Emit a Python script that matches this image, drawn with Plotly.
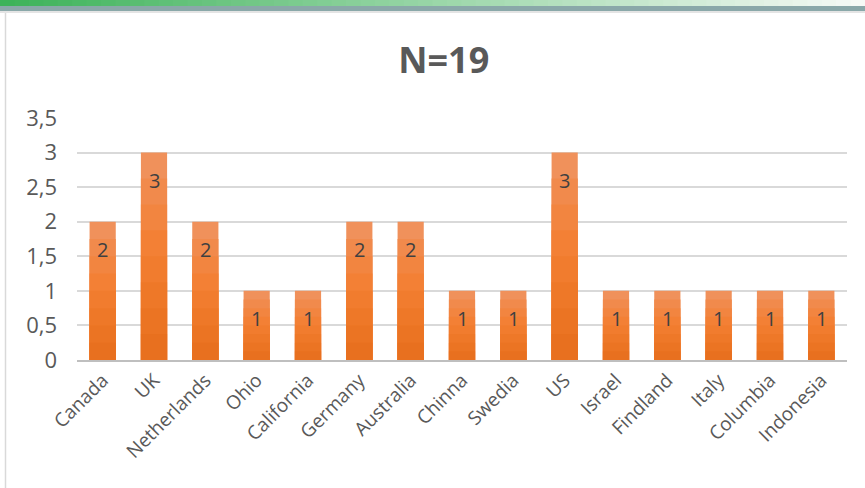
import plotly.graph_objects as go

categories = ["Canada", "UK", "Netherlands", "Ohio", "California", "Germany",
              "Australia", "Chinna", "Swedia", "US", "Israel", "Findland",
              "Italy", "Columbia", "Indonesia"]
counts = [2, 3, 2, 1, 1, 2, 2, 1, 1, 3, 1, 1, 1, 1, 1]
title_text = "N=19"
y_ticks = [0, 0.5, 1, 1.5, 2, 2.5, 3, 3.5]

W, H = 865, 488
ML, MR, MT, MB = 77, 18, 118, 128

fig = go.Figure()

# bar gradient: overlaid layers, light at top to dark at bottom
layer_colors = ["#F0915B", "#F18A4C", "#F28540", "#F38035", "#F17C2E",
                "#EE7828", "#EB7423", "#E8701F"]
n = len(layer_colors)
for k, col in enumerate(layer_colors):
    frac = 1 - k / n
    fig.add_trace(go.Bar(
        x=categories, y=[v * frac for v in counts],
        marker=dict(color=col, line=dict(width=0)),
        hoverinfo="skip", showlegend=False,
    ))

for c, v in zip(categories, counts):
    fig.add_annotation(x=c, y=v, text=str(v), showarrow=False,
                       yshift=-28, font=dict(size=20, color="#404040",
                                             family="Open Sans"))

# decorative banner at the top (green gradient + grey-teal band)
pw = W - ML - MR
ph = H - MT - MB
def px_x(x):
    return (x - ML) / pw
def px_y(y):
    return (H - MB - y) / ph

steps = 60
g0 = (61, 179, 90)
g1 = (246, 250, 246)
for i in range(steps):
    t = i / (steps - 1)
    col = tuple(int(g0[j] + (g1[j] - g0[j]) * t) for j in range(3))
    fig.add_shape(type="rect", xref="paper", yref="paper",
                  x0=px_x(W * i / steps), x1=px_x(W * (i + 1) / steps + 1),
                  y0=px_y(6), y1=px_y(0),
                  fillcolor="rgb(%d,%d,%d)" % col, line=dict(width=0), layer="above")
fig.add_shape(type="rect", xref="paper", yref="paper",
              x0=px_x(0), x1=px_x(W), y0=px_y(11), y1=px_y(6),
              fillcolor="#8AA8A9", line=dict(width=0))
fig.add_shape(type="rect", xref="paper", yref="paper",
              x0=px_x(0), x1=px_x(W), y0=px_y(13), y1=px_y(11),
              fillcolor="#E4E4E4", line=dict(width=0))
fig.add_shape(type="line", xref="paper", yref="paper",
              x0=px_x(5.5), x1=px_x(5.5), y0=px_y(H), y1=px_y(13),
              line=dict(color="#D9D9D9", width=1.5))

fig.update_layout(
    width=W, height=H,
    margin=dict(l=ML, r=MR, t=MT, b=MB),
    paper_bgcolor="white", plot_bgcolor="white",
    barmode="overlay", bargap=0.49,
    separators=",.",
    font=dict(family="Open Sans", color="#595959", size=20),
    title=dict(text="<b>%s</b>" % title_text, x=0.513, xref="container",
               y=1 - 60 / H, yref="container", xanchor="center", yanchor="middle",
               font=dict(size=36, color="#595959", family="Open Sans")),
    xaxis=dict(tickangle=-45, showgrid=False, showline=True,
               linecolor="#BFBFBF", linewidth=1.5, ticks="",
               tickfont=dict(size=19, color="#595959")),
    yaxis=dict(range=[0, 3.5], tickvals=y_ticks, showgrid=True,
               gridcolor="#D9D9D9", gridwidth=1.5, zeroline=False,
               showline=False, ticks="", ticklabelstandoff=19,
               tickfont=dict(size=22, color="#595959")),
)

fig.write_html("out.html")
